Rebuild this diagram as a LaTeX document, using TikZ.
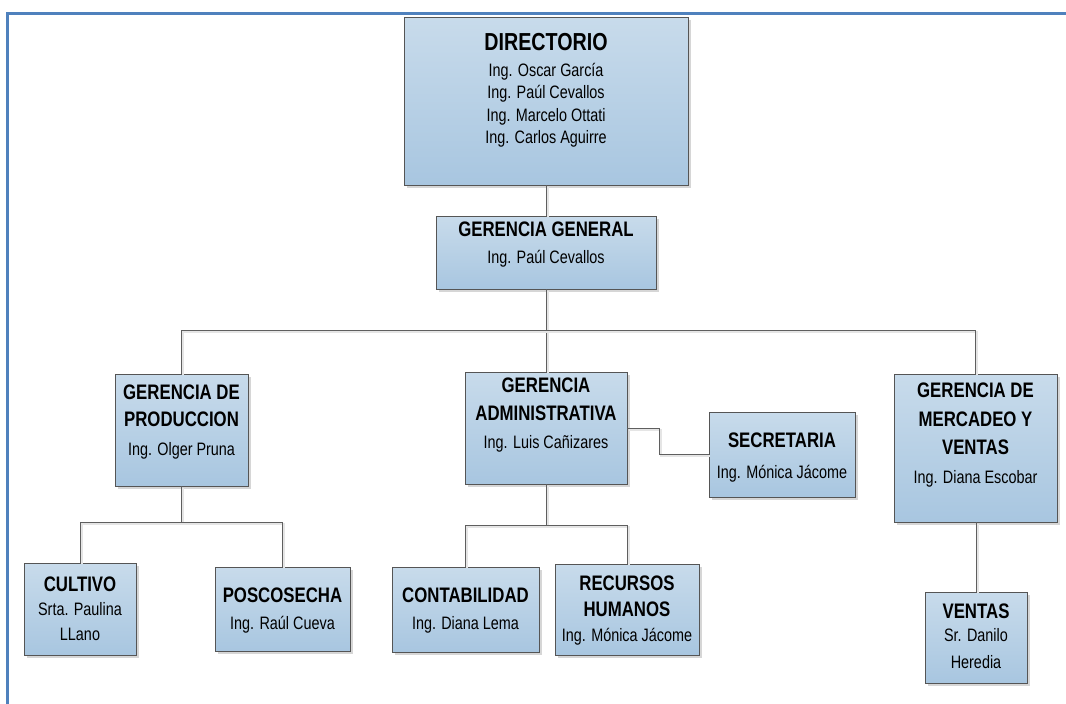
\documentclass[tikz,border=0pt]{standalone}
\usepackage{fontspec}
\setmainfont{Liberation Sans}[FakeStretch=0.8]
\usetikzlibrary{shadows}
\definecolor{frameblue}{RGB}{79,129,189}
\definecolor{boxtop}{RGB}{200,219,235}
\definecolor{boxbot}{RGB}{168,198,224}
\definecolor{boxline}{RGB}{85,85,85}
\definecolor{linkgray}{RGB}{95,95,95}

\begin{document}
\begin{tikzpicture}[x=1pt,y=-1pt,
  unit/.style={draw=boxline, line width=0.9pt, top color=boxtop, bottom color=boxbot,
    inner sep=0pt,
    drop shadow={shadow xshift=3pt, shadow yshift=-3pt, fill=black!16, opacity=1}},
  link/.style={draw=linkgray, line width=1pt,
    preaction={draw=black!10, line width=2pt, transform canvas={shift={(1.5pt,-1.5pt)}}}},
  bigttl/.style={font=\bfseries\fontsize{24.6}{28}\selectfont, anchor=base, inner sep=0pt},
  ttl/.style={font=\bfseries\fontsize{21}{24}\selectfont, anchor=base, inner sep=0pt},
  nm/.style={font=\fontsize{18}{21}\selectfont, text=black, anchor=base, inner sep=0pt}]

\useasboundingbox (0,0) rectangle (1066,704);

% page frame
\draw[frameblue, line width=3pt] (7.5,704) -- (7.5,13.5) -- (1066,13.5);

% boxes
\node[unit, minimum width=284pt, minimum height=168pt] (dir)  at (546,101)   {};
\node[unit, minimum width=220pt, minimum height=73pt]  (gg)   at (546,252.5) {};
\node[unit, minimum width=133pt, minimum height=112pt] (gp)   at (181.5,430) {};
\node[unit, minimum width=162pt, minimum height=112pt] (ga)   at (546,428)   {};
\node[unit, minimum width=146pt, minimum height=85pt]  (sec)  at (782,454.5) {};
\node[unit, minimum width=163pt, minimum height=148pt] (gmv)  at (975.5,448) {};
\node[unit, minimum width=112pt, minimum height=92pt]  (cult) at (80,609)    {};
\node[unit, minimum width=135pt, minimum height=84pt]  (posc) at (282.5,609) {};
\node[unit, minimum width=147pt, minimum height=85pt]  (cont) at (465.5,609.5) {};
\node[unit, minimum width=144pt, minimum height=91pt]  (rh)   at (627,609.5) {};
\node[unit, minimum width=102pt, minimum height=91pt]  (vent) at (976,637.5) {};

% connectors
\coordinate (bus)  at (546,330);
\coordinate (pbus) at (181,522);
\coordinate (abus) at (546,525);
\coordinate (secbend) at (659,440);

\draw[link] (dir.south) -- (gg.north);
\draw[link] (gg.south) -- (ga.north);
\draw[link] (gp.north) -- (gp.north |- bus) -- (gmv.north |- bus) -- (gmv.north);
\draw[link] (ga.east) -- (ga.east -| secbend) |- (sec.west);
\draw[link] (gp.south) -- (gp.south |- pbus);
\draw[link] (cult.north) -- (cult.north |- pbus) -- (posc.north |- pbus) -- (posc.north);
\draw[link] (ga.south) -- (ga.south |- abus);
\draw[link] (cont.north) -- (cont.north |- abus) -- (rh.north |- abus) -- (rh.north);
\draw[link] (vent.north |- gmv.south) -- (vent.north);

% texts
\node[bigttl] (dir-t)  at (546,50)  {DIRECTORIO};
\node[nm]     (dir-1)  at (546,76)  {Ing. Oscar García};
\node[nm]     (dir-2)  at (546,98.5) {Ing. Paúl Cevallos};
\node[nm]     (dir-3)  at (546,121) {Ing. Marcelo Ottati};
\node[nm]     (dir-4)  at (546,143) {Ing. Carlos Aguirre};

\node[ttl] (gg-t) at (546,236.5) {GERENCIA GENERAL};
\node[nm]  (gg-1) at (546,263)   {Ing. Paúl Cevallos};

\node[ttl] (gp-t1) at (181.5,399.5) {GERENCIA DE};
\node[ttl] (gp-t2) at (181.5,426.5) {PRODUCCION};
\node[nm]  (gp-1)  at (181.5,455)   {Ing. Olger Pruna};

\node[ttl] (ga-t1) at (546,392.5) {GERENCIA};
\node[ttl] (ga-t2) at (546,420)   {ADMINISTRATIVA};
\node[nm]  (ga-1)  at (546,448.5) {Ing. Luis Cañizares};

\node[ttl] (sec-t) at (782,447.5) {SECRETARIA};
\node[nm]  (sec-1) at (782,478.5) {Ing. Mónica Jácome};

\node[ttl] (gmv-t1) at (975.5,397.5) {GERENCIA DE};
\node[ttl] (gmv-t2) at (975.5,426.5) {MERCADEO Y};
\node[ttl] (gmv-t3) at (975.5,454.5) {VENTAS};
\node[nm]  (gmv-1)  at (975.5,483.5) {Ing. Diana Escobar};

\node[ttl] (cult-t) at (80,591.5) {CULTIVO};
\node[nm]  (cult-1) at (80,615)   {Srta. Paulina};
\node[nm]  (cult-2) at (80,640)   {LLano};

\node[ttl] (posc-t) at (282.5,602.5) {POSCOSECHA};
\node[nm]  (posc-1) at (282.5,629.5) {Ing. Raúl Cueva};

\node[ttl] (cont-t) at (465.5,602.5) {CONTABILIDAD};
\node[nm]  (cont-1) at (465.5,629.5) {Ing. Diana Lema};

\node[ttl] (rh-t1) at (627,590)   {RECURSOS};
\node[ttl] (rh-t2) at (627,616.5) {HUMANOS};
\node[nm]  (rh-1)  at (627,641.5) {Ing. Mónica Jácome};

\node[ttl] (vent-t) at (976,618)   {VENTAS};
\node[nm]  (vent-1) at (976,641.5) {Sr. Danilo};
\node[nm]  (vent-2) at (976,668)   {Heredia};

\end{tikzpicture}
\end{document}
